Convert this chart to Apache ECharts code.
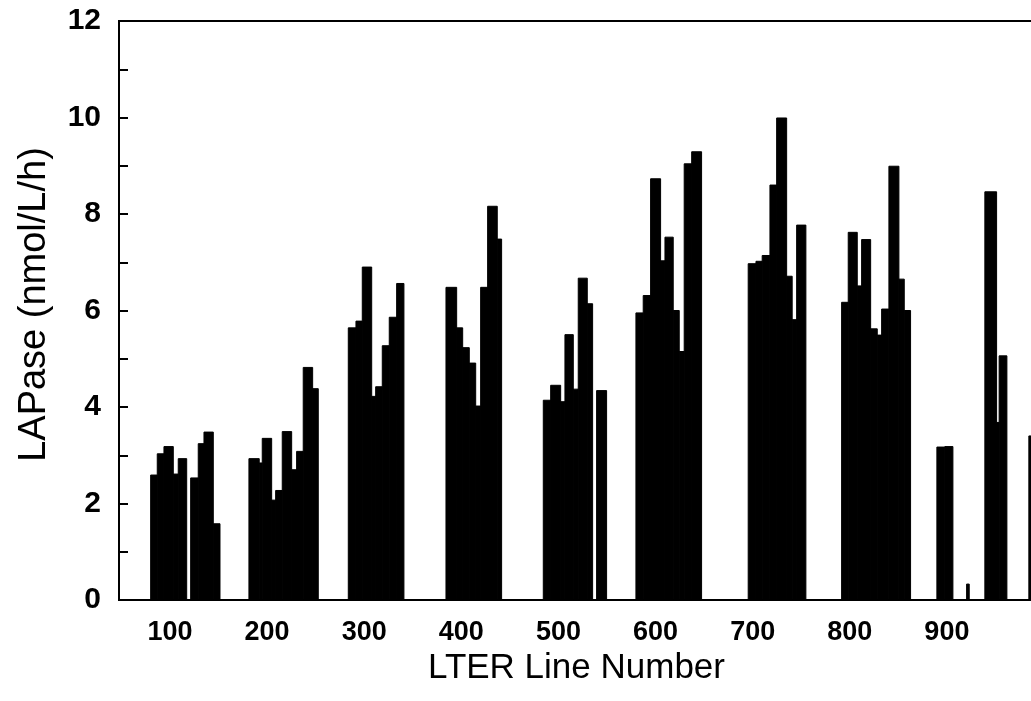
<!DOCTYPE html>
<html>
<head>
<meta charset="utf-8">
<title>LAPase by LTER line</title>
<script src="https://cdn.jsdelivr.net/npm/echarts@6/dist/echarts.min.js"></script>
<style>
  html, body { margin: 0; padding: 0; background: #fff; overflow: hidden; }
  /* plot runs past the right edge of the window, like the cropped scan */
  #chart { width: 1060px; height: 701px; }
</style>
</head>
<body>
<div id="chart"></div>
<script>
// x tick labels (LTER line number)
const lineTicks = [100, 200, 300, 400, 500, 600, 700, 800, 900];

// each bar: left edge, right edge (station position along the line axis), LAPase value
const barStart = [
  // line 100
  80.1, 86.9, 93.8, 103.4, 108.5, 121.3, 129.1, 135.0, 144.6,
  // line 200
  181.3, 191.9, 195.0, 204.7, 208.8, 215.6, 225.3, 230.4, 237.2, 246.9,
  // line 300
  283.6, 291.5, 298.0, 307.7, 311.8, 318.6, 325.8, 333.4,
  // line 400
  384.2, 395.2, 401.4, 408.2, 414.8, 419.9, 427.1, 437.0,
  // line 500
  484.4, 492.0, 502.3, 506.7, 515.3, 520.4, 529.7, 539.3,
  // line 600
  579.8, 587.3, 594.9, 605.2, 609.7, 618.2, 624.4, 629.5, 637.2,
  // line 700
  695.4, 703.4, 709.8, 717.8, 724.7, 735.0, 740.7, 745.3,
  // line 800
  791.6, 798.4, 807.7, 812.2, 821.5, 828.3, 832.8, 840.3, 850.6, 856.1,
  // line 900
  889.7, 897.9, 920.3, 939.1, 951.2, 953.8, 984.4
];
const barEnd = [
  86.9, 93.8, 103.4, 108.5, 117.2, 129.1, 135.0, 144.6, 151.5,
  191.9, 195.0, 204.7, 208.8, 215.6, 225.3, 230.4, 237.2, 246.9, 252.7,
  291.5, 298.0, 307.7, 311.8, 318.6, 325.8, 333.4, 340.9,
  395.2, 401.4, 408.2, 414.8, 419.9, 427.1, 437.0, 441.5,
  492.0, 502.3, 506.7, 515.3, 520.4, 529.7, 535.2, 549.6,
  587.3, 594.9, 605.2, 609.7, 618.2, 624.4, 629.5, 637.2, 647.4,
  703.4, 709.8, 717.8, 724.7, 735.0, 740.7, 745.3, 754.8,
  798.4, 807.7, 812.2, 821.5, 828.3, 832.8, 840.3, 850.6, 856.1, 862.6,
  897.9, 906.2, 923.0, 951.2, 953.8, 961.8, 991.6
];
const lapase = [
  2.59, 3.03, 3.18, 2.61, 2.93, 2.53, 3.24, 3.48, 1.58,
  2.93, 2.84, 3.35, 2.07, 2.27, 3.49, 2.70, 3.08, 4.82, 4.38,
  5.64, 5.78, 6.90, 4.22, 4.42, 5.27, 5.86, 6.56,
  6.48, 5.64, 5.23, 4.91, 4.02, 6.48, 8.16, 7.48,
  4.14, 4.45, 4.11, 5.50, 4.37, 6.67, 6.14, 4.34,
  5.95, 6.31, 8.73, 7.03, 7.52, 6.00, 5.15, 9.04, 9.29,
  6.97, 7.02, 7.14, 8.60, 9.99, 6.71, 5.81, 7.77,
  6.17, 7.62, 6.51, 7.47, 5.62, 5.49, 6.03, 8.99, 6.65, 6.00,
  3.17, 3.18, 0.33, 8.46, 3.68, 5.06, 3.40
];

const barData = lapase.map((v, i) => [barStart[i], barEnd[i], v]);

const chart = echarts.init(document.getElementById('chart'));

const fontFamily = '"Liberation Sans", Arial, Helvetica, sans-serif';

chart.setOption({
  backgroundColor: '#fff',
  animation: false,
  grid: {
    left: 119,
    right: 16,
    top: 21,
    bottom: 101,
    show: true,
    borderColor: '#000',
    borderWidth: 2
  },
  xAxis: {
    type: 'value',
    min: 47.5,
    max: 1000,
    name: 'LTER Line Number',
    nameLocation: 'middle',
    nameGap: 39,
    // padding nudges the title a little left of the (off-screen) axis middle
    nameTextStyle: { color: '#000', fontSize: 35, fontFamily: fontFamily, padding: [0, 10, 0, 0] },
    axisLine: { show: true, lineStyle: { color: '#000', width: 2 } },
    axisTick: { show: false },
    splitLine: { show: false },
    axisLabel: {
      customValues: lineTicks,
      color: '#000',
      fontSize: 27,
      fontWeight: 'bold',
      fontFamily: fontFamily,
      margin: 19
    }
  },
  yAxis: {
    type: 'value',
    min: 0,
    max: 12,
    interval: 2,
    name: 'LAPase (nmol/L/h)',
    nameLocation: 'middle',
    nameGap: 65,
    nameTextStyle: { color: '#000', fontSize: 38, fontFamily: fontFamily, padding: [0, 0, 0, 12] },
    axisLine: { show: true, lineStyle: { color: '#000', width: 2 } },
    axisTick: { show: true, inside: true, length: 9, lineStyle: { color: '#000', width: 2 } },
    minorTick: { show: true, splitNumber: 2, length: 9, lineStyle: { color: '#000', width: 2 } },
    splitLine: { show: false },
    axisLabel: {
      color: '#000',
      fontSize: 30,
      fontWeight: 'bold',
      fontFamily: fontFamily,
      margin: 18
    }
  },
  series: [{
    type: 'custom',
    data: barData,
    encode: { x: [0, 1], y: 2 },
    renderItem: (params, api) => {
      const topLeft = api.coord([api.value(0), api.value(2)]);
      const bottomRight = api.coord([api.value(1), 0]);
      return {
        type: 'rect',
        shape: {
          x: topLeft[0],
          y: topLeft[1],
          width: bottomRight[0] - topLeft[0],
          height: bottomRight[1] - topLeft[1]
        },
        // stroke closes the hairline gaps between neighbouring stations
        style: { fill: '#000', stroke: '#000', lineWidth: 1 }
      };
    }
  }]
});
</script>
</body>
</html>
